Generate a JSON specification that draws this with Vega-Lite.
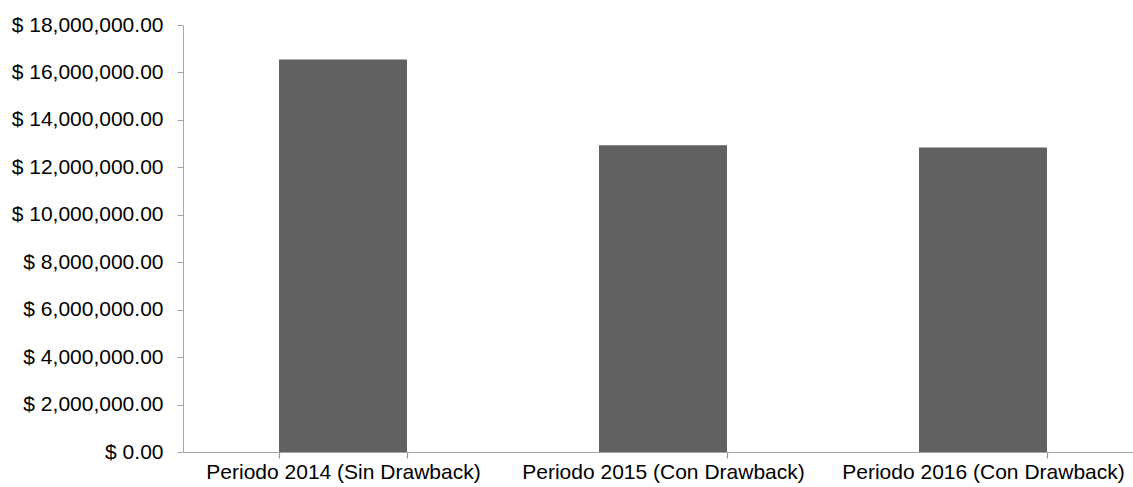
{
  "$schema": "https://vega.github.io/schema/vega-lite/v6.json",
  "width": 960,
  "height": 427,
  "autosize": {"type": "none"},
  "padding": {"left": 183, "top": 25, "right": 0, "bottom": 35},
  "background": "white",
  "config": {
    "view": {"stroke": null},
    "font": "Liberation Sans"
  },
  "data": {
    "values": [
      {"periodo": "Periodo 2014 (Sin Drawback)", "monto": 16550000},
      {"periodo": "Periodo 2015 (Con Drawback)", "monto": 12930000},
      {"periodo": "Periodo 2016 (Con Drawback)", "monto": 12840000}
    ]
  },
  "mark": {"type": "bar", "color": "#616161"},
  "encoding": {
    "x": {
      "field": "periodo",
      "type": "nominal",
      "sort": null,
      "scale": {"paddingInner": 0.6, "paddingOuter": 0.3},
      "axis": {
        "title": null,
        "labelAngle": 0,
        "labelFont": "Liberation Sans",
        "labelFontSize": 21,
        "labelColor": "#000000",
        "labelPadding": 3,
        "labelLimit": 0,
        "labelOverlap": false,
        "tickBand": "extent",
        "tickSize": 6,
        "tickWidth": 1.2,
        "tickColor": "#999999",
        "domainColor": "#a6a6a6",
        "grid": false
      }
    },
    "y": {
      "field": "monto",
      "type": "quantitative",
      "scale": {"domain": [0, 18000000], "nice": false},
      "axis": {
        "title": null,
        "values": [0, 2000000, 4000000, 6000000, 8000000, 10000000, 12000000, 14000000, 16000000, 18000000],
        "labelExpr": "'$ ' + format(datum.value, ',.2f')",
        "labelFont": "Liberation Sans",
        "labelFontSize": 21,
        "labelColor": "#000000",
        "labelPadding": 14,
        "labelLimit": 0,
        "tickSize": 6,
        "tickColor": "#a6a6a6",
        "domainColor": "#a6a6a6",
        "grid": false
      }
    }
  }
}
